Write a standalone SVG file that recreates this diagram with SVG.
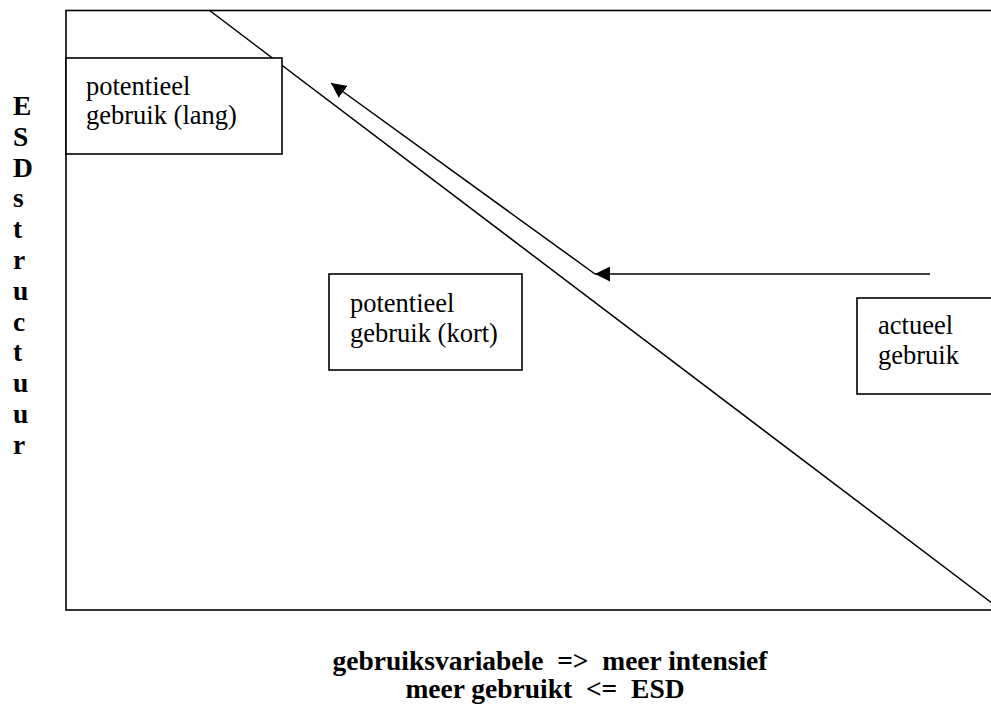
<svg xmlns="http://www.w3.org/2000/svg" width="991" height="711" viewBox="0 0 991 711">
  <style>
    .frame { fill: none; stroke: #000; stroke-width: 1.6; }
    .box { fill: #fff; stroke: #000; stroke-width: 1.6; }
    .line { fill: none; stroke: #000; stroke-width: 1.5; }
    .lbl { font-family: "Liberation Serif", "DejaVu Serif", serif; font-size: 26.5px; fill: #000; }
    .axis { font-family: "Liberation Serif", "DejaVu Serif", serif; font-size: 27.5px; font-weight: bold; fill: #000; }
  </style>
  <defs>
    <marker id="headL" viewBox="0 0 15 15" refX="15" refY="7.5" markerWidth="15" markerHeight="15" markerUnits="userSpaceOnUse" orient="auto">
      <path d="M0,0 L15,7.5 L0,15 Z" fill="#000"/>
    </marker>
  </defs>

  <!-- plot frame -->
  <rect class="frame" x="66" y="10.5" width="1000" height="599.5"/>

  <g id="connectors">
    <line class="line" x1="209" y1="10" x2="1001" y2="610"/>
    <line class="line" x1="930" y1="274" x2="595" y2="274" marker-end="url(#headL)"/>
    <line class="line" x1="595" y1="274" x2="331" y2="83" marker-end="url(#headL)"/>
  </g>

  <g id="lang">
    <rect class="box" x="66" y="58" width="216" height="96"/>
    <text class="lbl" x="86" y="95">potentieel</text>
    <text class="lbl" x="86" y="124">gebruik (lang)</text>
  </g>

  <g id="kort">
    <rect class="box" x="329" y="274" width="193" height="96"/>
    <text class="lbl" x="350" y="312">potentieel</text>
    <text class="lbl" x="350" y="342">gebruik (kort)</text>
  </g>

  <g id="actueel">
    <rect class="box" x="857" y="298" width="160" height="96"/>
    <text class="lbl" x="878" y="334">actueel</text>
    <text class="lbl" x="878" y="364">gebruik</text>
  </g>

  <!-- vertical axis title, one letter per line -->
  <g id="y-axis" class="axis">
    <text x="13" y="115">E</text>
    <text x="13" y="146">S</text>
    <text x="13" y="177">D</text>
    <text x="13" y="207">s</text>
    <text x="13" y="238">t</text>
    <text x="13" y="269">r</text>
    <text x="13" y="300">u</text>
    <text x="13" y="331">c</text>
    <text x="13" y="361">t</text>
    <text x="13" y="392">u</text>
    <text x="13" y="423">u</text>
    <text x="13" y="454">r</text>
  </g>

  <g id="x-axis" class="axis" text-anchor="middle">
    <text x="550" y="670" xml:space="preserve">gebruiksvariabele  =&gt;  meer intensief</text>
    <text x="545" y="698" xml:space="preserve">meer gebruikt  &lt;=  ESD</text>
  </g>
</svg>
